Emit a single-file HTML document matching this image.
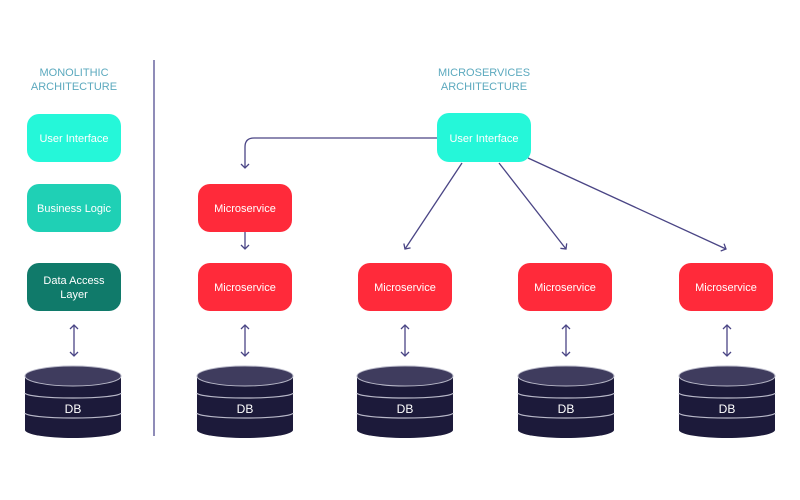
<!DOCTYPE html>
<html><head><meta charset="utf-8"><style>
html,body{margin:0;padding:0;background:#fff;}
svg{display:block;font-family:"Liberation Sans",sans-serif;}
</style></head><body>
<svg width="800" height="500" viewBox="0 0 800 500" xmlns="http://www.w3.org/2000/svg">
<defs>
<marker id="ah" markerWidth="10" markerHeight="10" refX="5" refY="5" orient="auto-start-reverse" markerUnits="userSpaceOnUse">
<path d="M1,1 L5,5 L1,9" fill="none" stroke="#4a4585" stroke-width="1.3"/>
</marker>
<g id="db">
<path d="M0,10 L0,64 A48,8 0 0 0 96,64 L96,10 Z" fill="#1c1a3a"/>
<ellipse cx="48" cy="10" rx="48" ry="10" fill="#3f3c5e" stroke="#b8b8c8" stroke-width="1"/>
<path d="M0,27 A48,5 0 0 0 96,27" fill="none" stroke="#b8b8c8" stroke-width="1.2"/>
<path d="M0,47 A48,5 0 0 0 96,47" fill="none" stroke="#b8b8c8" stroke-width="1.2"/>
<text x="48" y="47" text-anchor="middle" fill="#fff" font-size="12">DB</text>
</g>
</defs>
<g fill="#5ba9be" font-size="11" text-anchor="middle">
<text x="74" y="76">MONOLITHIC</text><text x="74" y="90">ARCHITECTURE</text>
<text x="484" y="76">MICROSERVICES</text><text x="484" y="90">ARCHITECTURE</text>
</g>
<line x1="154" y1="60" x2="154" y2="436" stroke="#6a66a0" stroke-width="1.5"/>
<g font-size="11" fill="#fff" text-anchor="middle">
<rect x="27" y="114" width="94" height="48" rx="12" fill="#25f7d9"/><text x="74" y="142">User Interface</text>
<rect x="27" y="184" width="94" height="48" rx="12" fill="#1fd0b5"/><text x="74" y="212">Business Logic</text>
<rect x="27" y="263" width="94" height="48" rx="12" fill="#107a6a"/><text x="74" y="284">Data Access</text><text x="74" y="298">Layer</text>
<rect x="437" y="113" width="94" height="49" rx="12" fill="#25f7d9"/><text x="484" y="142">User Interface</text>
<rect x="198" y="184" width="94" height="48" rx="12" fill="#ff2a3a"/><text x="245" y="212">Microservice</text>
<rect x="198" y="263" width="94" height="48" rx="12" fill="#ff2a3a"/><text x="245" y="291">Microservice</text>
<rect x="358" y="263" width="94" height="48" rx="12" fill="#ff2a3a"/><text x="405" y="291">Microservice</text>
<rect x="518" y="263" width="94" height="48" rx="12" fill="#ff2a3a"/><text x="565" y="291">Microservice</text>
<rect x="679" y="263" width="94" height="48" rx="12" fill="#ff2a3a"/><text x="726" y="291">Microservice</text>
</g>
<g stroke="#4a4585" stroke-width="1.3" fill="none">
<path d="M437,138 L254,138 Q245,138 245,147 L245,168" marker-end="url(#ah)"/>
<line x1="245" y1="232" x2="245" y2="249" marker-end="url(#ah)"/>
<line x1="462" y1="163" x2="405" y2="249" marker-end="url(#ah)"/>
<line x1="499" y1="163" x2="566" y2="249" marker-end="url(#ah)"/>
<line x1="528" y1="158" x2="726" y2="249" marker-end="url(#ah)"/>
<line x1="74" y1="325" x2="74" y2="356" marker-start="url(#ah)" marker-end="url(#ah)"/>
<line x1="245" y1="325" x2="245" y2="356" marker-start="url(#ah)" marker-end="url(#ah)"/>
<line x1="405" y1="325" x2="405" y2="356" marker-start="url(#ah)" marker-end="url(#ah)"/>
<line x1="566" y1="325" x2="566" y2="356" marker-start="url(#ah)" marker-end="url(#ah)"/>
<line x1="727" y1="325" x2="727" y2="356" marker-start="url(#ah)" marker-end="url(#ah)"/>
</g>
<use href="#db" x="25" y="366"/>
<use href="#db" x="197" y="366"/>
<use href="#db" x="357" y="366"/>
<use href="#db" x="518" y="366"/>
<use href="#db" x="679" y="366"/>
</svg>
</body></html>
